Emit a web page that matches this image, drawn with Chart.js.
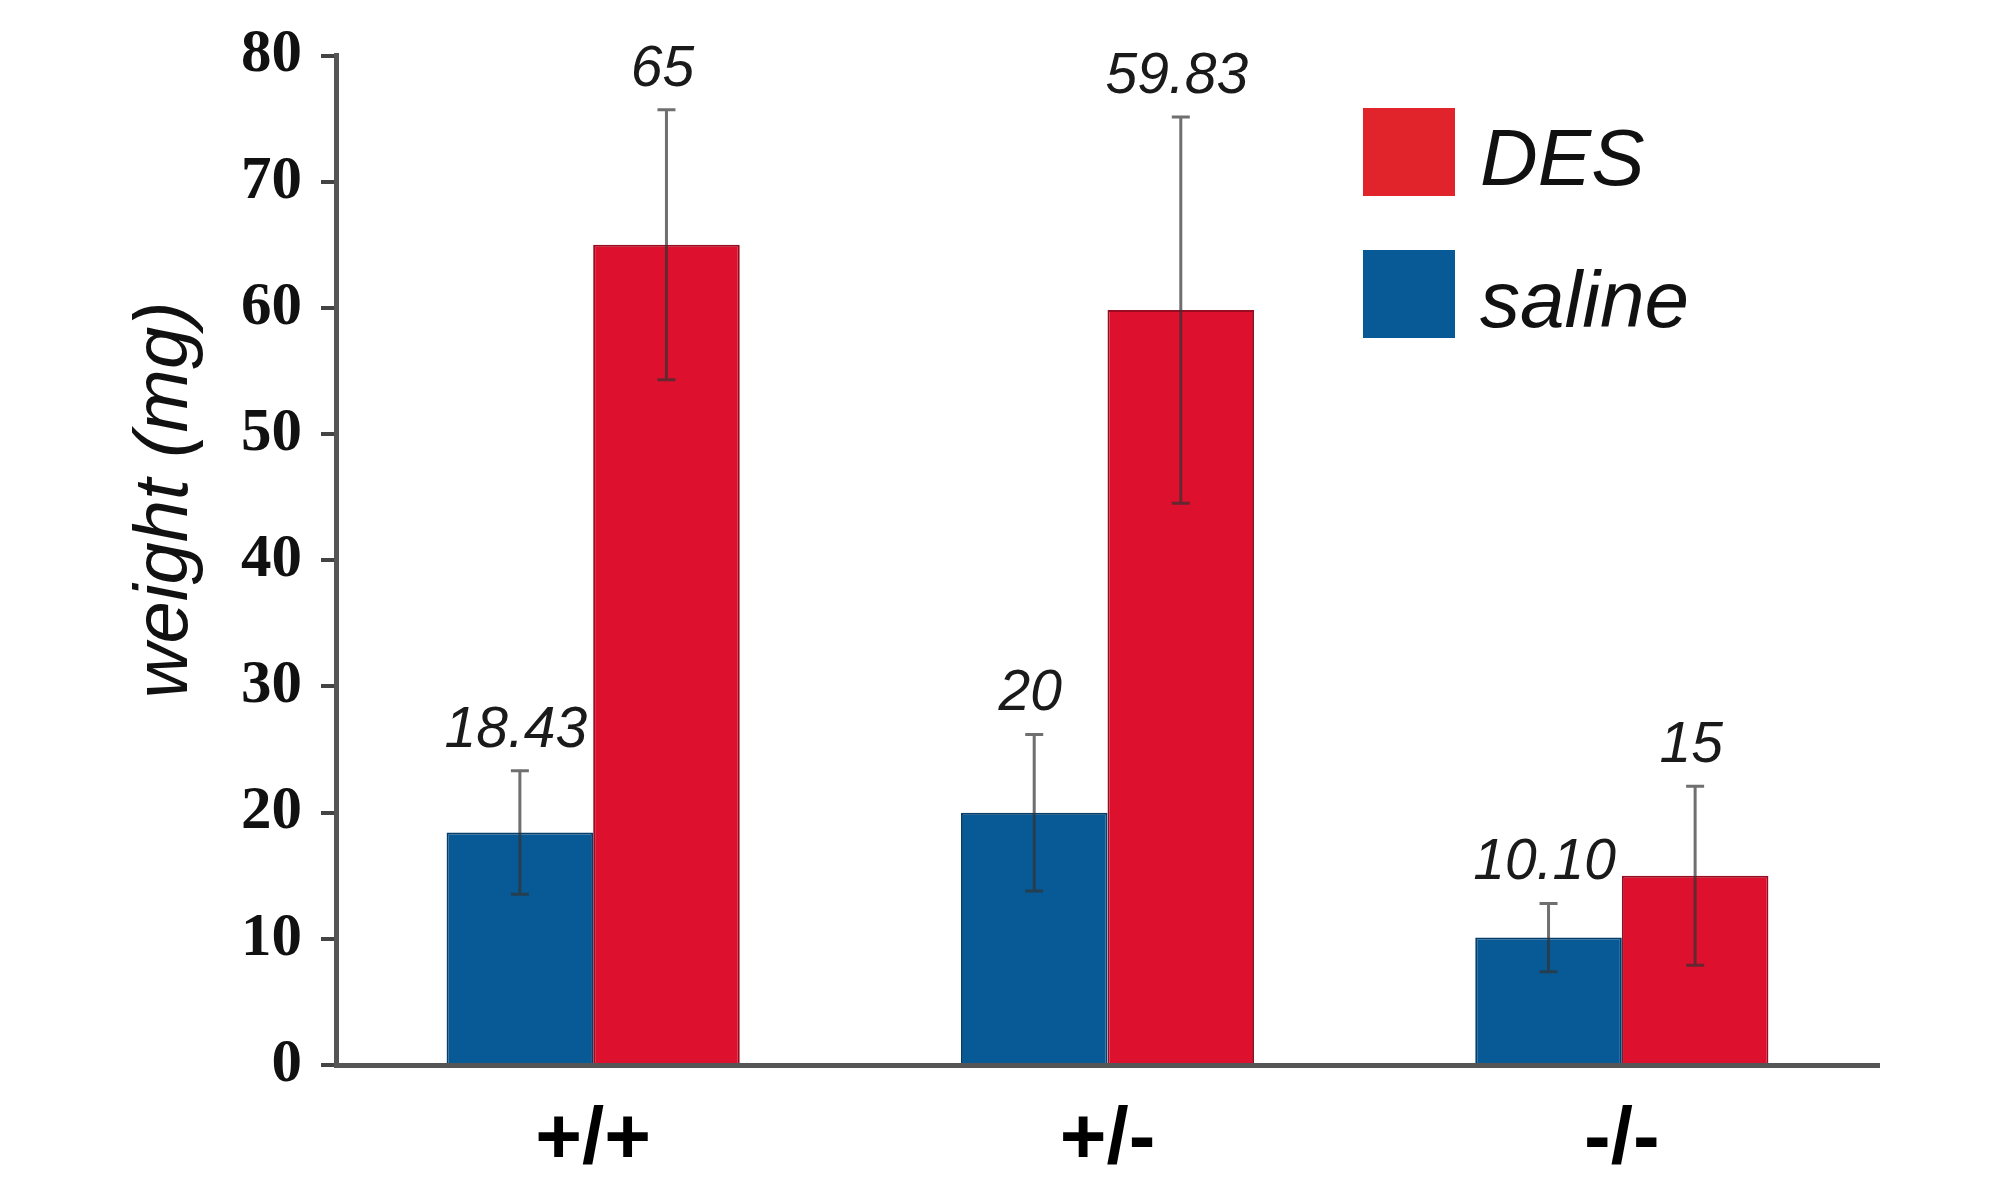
<!DOCTYPE html>
<html><head><meta charset="utf-8">
<script src="https://cdn.jsdelivr.net/npm/chart.js@4.4.1/dist/chart.umd.min.js"></script>
<style>html,body{margin:0;padding:0;background:#fff;} canvas{display:block}</style>
</head><body>
<canvas id="c" width="2000" height="1200"></canvas>
<script>
// ---- data ----
const categories = ['+/+', '+/-', '-/-'];
const salineValues = [18.43, 20, 10.10];
const salineErrors = [4.9, 6.2, 2.7];
const salineLabels = ['18.43', '20', '10.10'];
const desValues = [65, 59.83, 15];
const desErrors = [10.7, 15.3, 7.1];
const desLabels = ['65', '59.83', '15'];
const yTicks = [0, 10, 20, 30, 40, 50, 60, 70, 80];
const yTitle = 'weight (mg)';

const SANS = '"Liberation Sans", Arial, Helvetica, sans-serif';
const SERIF = '"Liberation Serif", "Times New Roman", Times, serif';

const annot = {
  id: 'annot',
  afterDatasetsDraw(chart) {
    const ctx = chart.ctx, y = chart.scales.y;
    chart.data.datasets.forEach((ds, di) => {
      const meta = chart.getDatasetMeta(di);
      meta.data.forEach((bar, i) => {
        const v = ds.data[i], e = ds.errors[i];
        const top = y.getPixelForValue(v + e), bot = y.getPixelForValue(v - e);
        ctx.save();
        ctx.strokeStyle = 'rgba(50,50,50,0.7)';
        ctx.lineWidth = 3;
        ctx.beginPath();
        ctx.moveTo(bar.x, top); ctx.lineTo(bar.x, bot);
        ctx.moveTo(bar.x - 9, top); ctx.lineTo(bar.x + 9, top);
        ctx.moveTo(bar.x - 9, bot); ctx.lineTo(bar.x + 9, bot);
        ctx.stroke();
        ctx.font = 'italic 57px ' + SANS;
        ctx.fillStyle = '#1a1a1a';
        ctx.textAlign = 'center';
        ctx.textBaseline = 'alphabetic';
        ctx.fillText(ds.valueLabels[i], bar.x - 4, top - 24);
        ctx.restore();
      });
    });
  },
  afterDraw(chart) {
    const ctx = chart.ctx;
    // legend (reverse order: DES first)
    const items = chart.data.datasets.slice().reverse();
    items.forEach((ds, k) => {
      const bx = 1363, by = 108 + k * 142;
      ctx.save();
      ctx.fillStyle = ds.legendColor;
      ctx.fillRect(bx, by, 92, 88);
      ctx.font = 'italic 80px ' + SANS;
      ctx.fillStyle = '#111';
      ctx.textAlign = 'left';
      ctx.textBaseline = 'alphabetic';
      ctx.fillText(ds.label, 1480, by + 77);
      ctx.restore();
    });
    // y axis title
    ctx.save();
    ctx.translate(166, 500);
    ctx.rotate(-Math.PI / 2);
    ctx.font = 'italic 76px ' + SANS;
    ctx.fillStyle = '#111';
    ctx.textAlign = 'center';
    ctx.textBaseline = 'middle';
    ctx.fillText(yTitle, 0, 0);
    ctx.restore();
  }
};

new Chart(document.getElementById('c'), {
  type: 'bar',
  data: {
    labels: categories,
    datasets: [
      { label: 'saline', data: salineValues, errors: salineErrors, valueLabels: salineLabels,
        backgroundColor: '#085a96', borderColor: '#053e6a', borderWidth: 2, legendColor: '#085a96' },
      { label: 'DES', data: desValues, errors: desErrors, valueLabels: desLabels,
        backgroundColor: '#dd102e', borderColor: '#9a0c22', borderWidth: 2, legendColor: '#e1232c' }
    ]
  },
  options: {
    responsive: false,
    devicePixelRatio: 1,
    animation: false,
    layout: { padding: { left: 10, right: 121, top: 51, bottom: 0 } },
    plugins: { legend: { display: false }, tooltip: { enabled: false } },
    datasets: { bar: { categoryPercentage: 0.57, barPercentage: 1.0 } },
    scales: {
      x: {
        grid: { display: false },
        border: { display: true, color: '#555', width: 5 },
        ticks: { color: '#000', font: { family: SANS, size: 80, weight: 'bold' }, padding: 20 },
        afterFit(s) { s.height = 135; }
      },
      y: {
        min: 0, max: 80,
        afterBuildTicks(s) { s.ticks = yTicks.map(v => ({ value: v })); },
        grid: { drawOnChartArea: false, tickLength: 15, color: '#444', lineWidth: 4 },
        border: { display: true, color: '#555', width: 5 },
        ticks: { color: '#111', font: { family: SERIF, size: 61, weight: 'bold' }, padding: 19 },
        afterFit(s) { s.width = 326; }
      }
    }
  },
  plugins: [annot]
});
</script>
</body></html>
